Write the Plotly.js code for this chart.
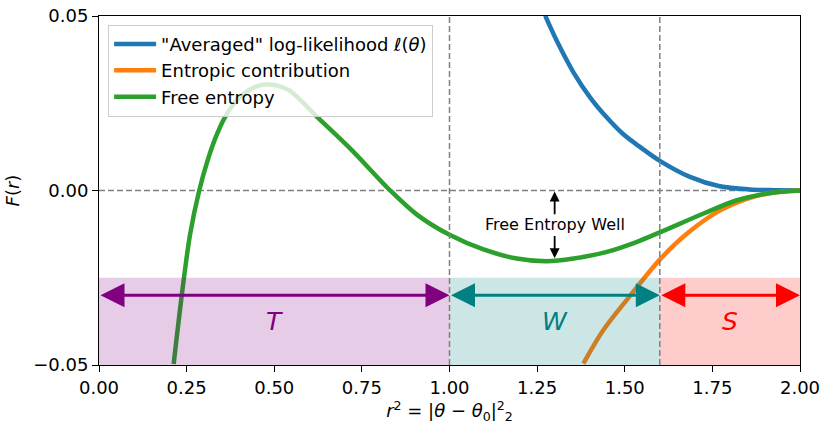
<!DOCTYPE html>
<html>
<head>
<meta charset="utf-8">
<script src="https://cdn.plot.ly/plotly-3.0.1.min.js"></script>
<style>
  body { margin: 0; background: #fff; }
  #graphDiv { width: 830px; height: 430px; }
</style>
</head>
<body>
<div id="graphDiv"></div>
<script>
// values
var blueX = [1.273, 1.306, 1.354, 1.401, 1.449, 1.496, 1.539, 1.600, 1.686, 1.771, 1.857, 1.930, 2.000];
var blueY = [0.0501, 0.0429, 0.0338, 0.0267, 0.0209, 0.0161, 0.0128, 0.0085, 0.0039, 0.0012, 0.0003, 0.0001, 0.0];

var orangeX = [1.382, 1.439, 1.515, 1.600, 1.677, 1.772, 1.867, 1.933, 2.000];
var orangeY = [-0.0496, -0.0400, -0.0302, -0.0198, -0.0124, -0.0057, -0.0018, -0.0005, 0.0];

var greenX = [0.213, 0.238, 0.260, 0.286, 0.308, 0.332, 0.360, 0.398, 0.446, 0.484, 0.541, 0.622,
              0.717, 0.831, 0.907, 1.000, 1.097, 1.192, 1.278, 1.354, 1.449, 1.535, 1.600,
              1.725, 1.820, 1.915, 2.000];
var greenY = [-0.0497, -0.0285, -0.0125, 0.0, 0.0080, 0.0150, 0.0211, 0.0264, 0.0297, 0.0304, 0.0288, 0.0211,
              0.0120, 0.0, -0.0069, -0.0127, -0.0169, -0.0195, -0.0203, -0.0195, -0.0176, -0.0147, -0.0120,
              -0.0066, -0.0028, -0.0007, 0.0];

var regionNames = ['T', 'W', 'S'];
var regionStart = [0, 1.0, 1.6];
var regionEnd = [1.0, 1.6, 2.0];

var xTicks = [0, 0.25, 0.5, 0.75, 1.0, 1.25, 1.5, 1.75, 2.0];
var yTicks = [-0.05, 0, 0.05];

var regionColors = ['128,0,128', '0,128,128', '255,0,0'];
var font = 'DejaVu Sans, sans-serif';

var trace1 = {
  type: 'scatter', mode: 'lines',
  name: '"Averaged" log-likelihood <i>ℓ</i>(<i>θ</i>)',
  x: blueX, y: blueY,
  line: {color: '#1f77b4', width: 4.5, shape: 'spline', smoothing: 0.9}
};
var trace2 = {
  type: 'scatter', mode: 'lines',
  name: 'Entropic contribution',
  x: orangeX, y: orangeY,
  line: {color: '#ff7f0e', width: 4.5, shape: 'spline', smoothing: 0.9}
};
var trace3 = {
  type: 'scatter', mode: 'lines',
  name: 'Free entropy',
  x: greenX, y: greenY,
  line: {color: '#2ca02c', width: 4.5, shape: 'spline', smoothing: 0.9}
};

var shapes = [];
var annotations = [];

for (var i = 0; i < regionNames.length; i++) {
  var c = regionColors[i];
  shapes.push({
    type: 'rect', layer: 'above', xref: 'x', yref: 'y',
    x0: regionStart[i], x1: regionEnd[i], y0: -0.05, y1: -0.025,
    fillcolor: 'rgba(' + c + ',0.2)', line: {width: 0}
  });
  annotations.push({
    xref: 'x', yref: 'y', axref: 'x', ayref: 'y',
    x: regionEnd[i], y: -0.03, ax: regionStart[i], ay: -0.03,
    text: '', showarrow: true, arrowside: 'end+start',
    arrowhead: 2, arrowsize: 1.6, arrowwidth: 3,
    arrowcolor: 'rgb(' + c + ')'
  });
  annotations.push({
    xref: 'x', yref: 'y',
    x: (regionStart[i] + regionEnd[i]) / 2, y: -0.0375,
    text: '<i>' + regionNames[i] + '</i>', showarrow: false,
    font: {family: font, size: 25, color: 'rgb(' + c + ')'}
  });
}

// dashed guide lines
[1.0, 1.6].forEach(function(v) {
  shapes.push({
    type: 'line', layer: 'above', xref: 'x', yref: 'paper',
    x0: v, x1: v, y0: 0, y1: 1,
    line: {color: 'gray', width: 1.5, dash: '6px,3px'}
  });
});
shapes.push({
  type: 'line', layer: 'below', xref: 'paper', yref: 'y',
  x0: 0, x1: 1, y0: 0, y1: 0,
  line: {color: 'gray', width: 1.5, dash: '6px,3px'}
});

// free entropy well annotation
annotations.push({
  xref: 'x', yref: 'y', x: 1.3, y: -0.0097,
  text: 'Free Entropy Well', showarrow: false,
  font: {family: font, size: 16, color: 'black'}
});
annotations.push({
  xref: 'x', yref: 'y', axref: 'x', ayref: 'y',
  x: 1.3, y: -0.0003, ax: 1.3, ay: -0.0072,
  text: '', showarrow: true, arrowhead: 2, arrowsize: 1.1, arrowwidth: 1.8, arrowcolor: 'black'
});
annotations.push({
  xref: 'x', yref: 'y', axref: 'x', ayref: 'y',
  x: 1.3, y: -0.0194, ax: 1.3, ay: -0.0126,
  text: '', showarrow: true, arrowhead: 2, arrowsize: 1.1, arrowwidth: 1.8, arrowcolor: 'black'
});

var data = [trace1, trace2, trace3];

var layout = {
  width: 830, height: 430,
  margin: {l: 99, r: 30, t: 16, b: 65},
  paper_bgcolor: 'white', plot_bgcolor: 'white',
  font: {family: font, size: 18, color: 'black'},
  showlegend: true,
  legend: {
    x: 0.013, y: 0.975, xanchor: 'left', yanchor: 'top',
    bgcolor: 'rgba(255,255,255,0.8)', bordercolor: '#cccccc', borderwidth: 1,
    font: {family: font, size: 18}, itemwidth: 42, tracegroupgap: 0
  },
  xaxis: {
    range: [0, 2], tickvals: xTicks,
    ticktext: xTicks.map(function(v) { return v.toFixed(2); }),
    showgrid: false, zeroline: false,
    showline: true, mirror: true, linecolor: 'black', linewidth: 1,
    ticks: 'outside', ticklen: 6, tickcolor: 'black',
    title: {text: '<i>r</i><sup>2</sup> = |<i>θ</i> − <i>θ</i><sub>0</sub>|<sup>2</sup><sub>2</sub>', standoff: 6, font: {size: 18}}
  },
  yaxis: {
    range: [-0.05, 0.05], tickvals: yTicks,
    ticktext: yTicks.map(function(v) { return (v < 0 ? '−' : '') + Math.abs(v).toFixed(2); }),
    showgrid: false, zeroline: false,
    showline: true, mirror: true, linecolor: 'black', linewidth: 1,
    ticks: 'outside', ticklen: 6, tickcolor: 'black',
    title: {text: '<i>F</i>(<i>r</i>)', standoff: 8, font: {size: 18}}
  },
  shapes: shapes,
  annotations: annotations
};

Plotly.newPlot('graphDiv', data, layout, {displayModeBar: false});
</script>
</body>
</html>
